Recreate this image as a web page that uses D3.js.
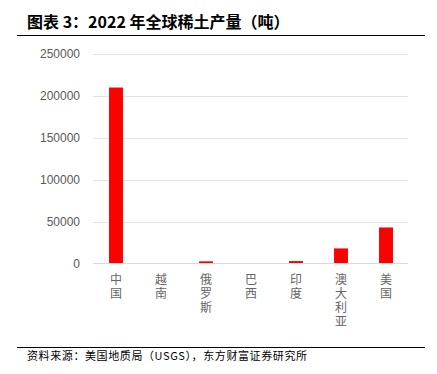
<!DOCTYPE html>
<html>
<head>
<meta charset="utf-8">
<script src="https://cdn.jsdelivr.net/npm/d3@7"></script>
<style>
body { margin: 0; background: #fff; }
svg { display: block; }
</style>
</head>
<body>
<svg id="chart" width="437" height="374"></svg>
<script>
var countries = ["中国", "越南", "俄罗斯", "巴西", "印度", "澳大利亚", "美国"];
var output = [210000, 600, 2600, 80, 2900, 18000, 43000];
var yTicks = [0, 50000, 100000, 150000, 200000, 250000];

var svg = d3.select("#chart");
var cjk = "'Noto Sans CJK SC', 'Noto Sans', sans-serif";

// title
svg.append("text")
    .attr("x", 27).attr("y", 28)
    .style("font-family", cjk).style("font-size", "16px").style("font-weight", "bold")
    .attr("fill", "#000")
    .text("图表 3：2022 年全球稀土产量（吨）");
svg.append("line")
    .attr("x1", 17).attr("x2", 425).attr("y1", 35.5).attr("y2", 35.5)
    .attr("stroke", "#000").attr("stroke-width", 1.2);

var x = d3.scaleBand().domain(countries).range([93.5, 408.5]).paddingInner(0.69).paddingOuter(0.345);
var y = d3.scaleLinear().domain([0, 250000]).range([263.5, 54]);

// grid lines
svg.append("g").selectAll("line")
    .data(yTicks.slice(1))
    .enter().append("line")
    .attr("x1", 93).attr("x2", 408)
    .attr("y1", function(d) { return Math.round(y(d)) + 0.5; })
    .attr("y2", function(d) { return Math.round(y(d)) + 0.5; })
    .attr("stroke", "#e3e3e3");

// y axis labels
var yAxis = svg.append("g")
    .attr("transform", "translate(93,0)")
    .call(d3.axisLeft(y).tickValues(yTicks).tickSize(0).tickPadding(13).tickFormat(d3.format("d")));
yAxis.select(".domain").remove();
yAxis.selectAll("text")
    .style("font-family", "'Liberation Sans', Arial, sans-serif")
    .style("font-size", "12px")
    .attr("fill", "#595959");

// bars
svg.append("g").selectAll("rect")
    .data(output)
    .enter().append("rect")
    .attr("x", function(d, i) { return x(countries[i]); })
    .attr("width", x.bandwidth())
    .attr("y", function(d) { return y(d); })
    .attr("height", function(d) { return y(0) - y(d); })
    .attr("fill", "#ff0000");

// baseline
svg.append("line")
    .attr("x1", 93).attr("x2", 408).attr("y1", 263.5).attr("y2", 263.5)
    .attr("stroke", "#d9d9d9");

// category labels, one character per line
var chars = [];
countries.forEach(function(name) {
    name.split("").forEach(function(ch, k) {
        chars.push({ name: name, ch: ch, k: k });
    });
});
svg.append("g").selectAll("text")
    .data(chars)
    .enter().append("text")
    .attr("text-anchor", "middle")
    .attr("x", function(d) { return x(d.name) + x.bandwidth() / 2; })
    .attr("y", function(d) { return 284 + d.k * 14; })
    .style("font-family", cjk).style("font-size", "12px")
    .attr("fill", "#666")
    .text(function(d) { return d.ch; });

// source
svg.append("line")
    .attr("x1", 17).attr("x2", 425).attr("y1", 347.5).attr("y2", 347.5)
    .attr("stroke", "#000").attr("stroke-width", 1);
svg.append("text")
    .attr("x", 27).attr("y", 360)
    .style("font-family", cjk).style("font-size", "11px")
    .style("letter-spacing", "0.6px")
    .attr("fill", "#000")
    .text("资料来源：美国地质局（USGS），东方财富证券研究所");
</script>
</body>
</html>
